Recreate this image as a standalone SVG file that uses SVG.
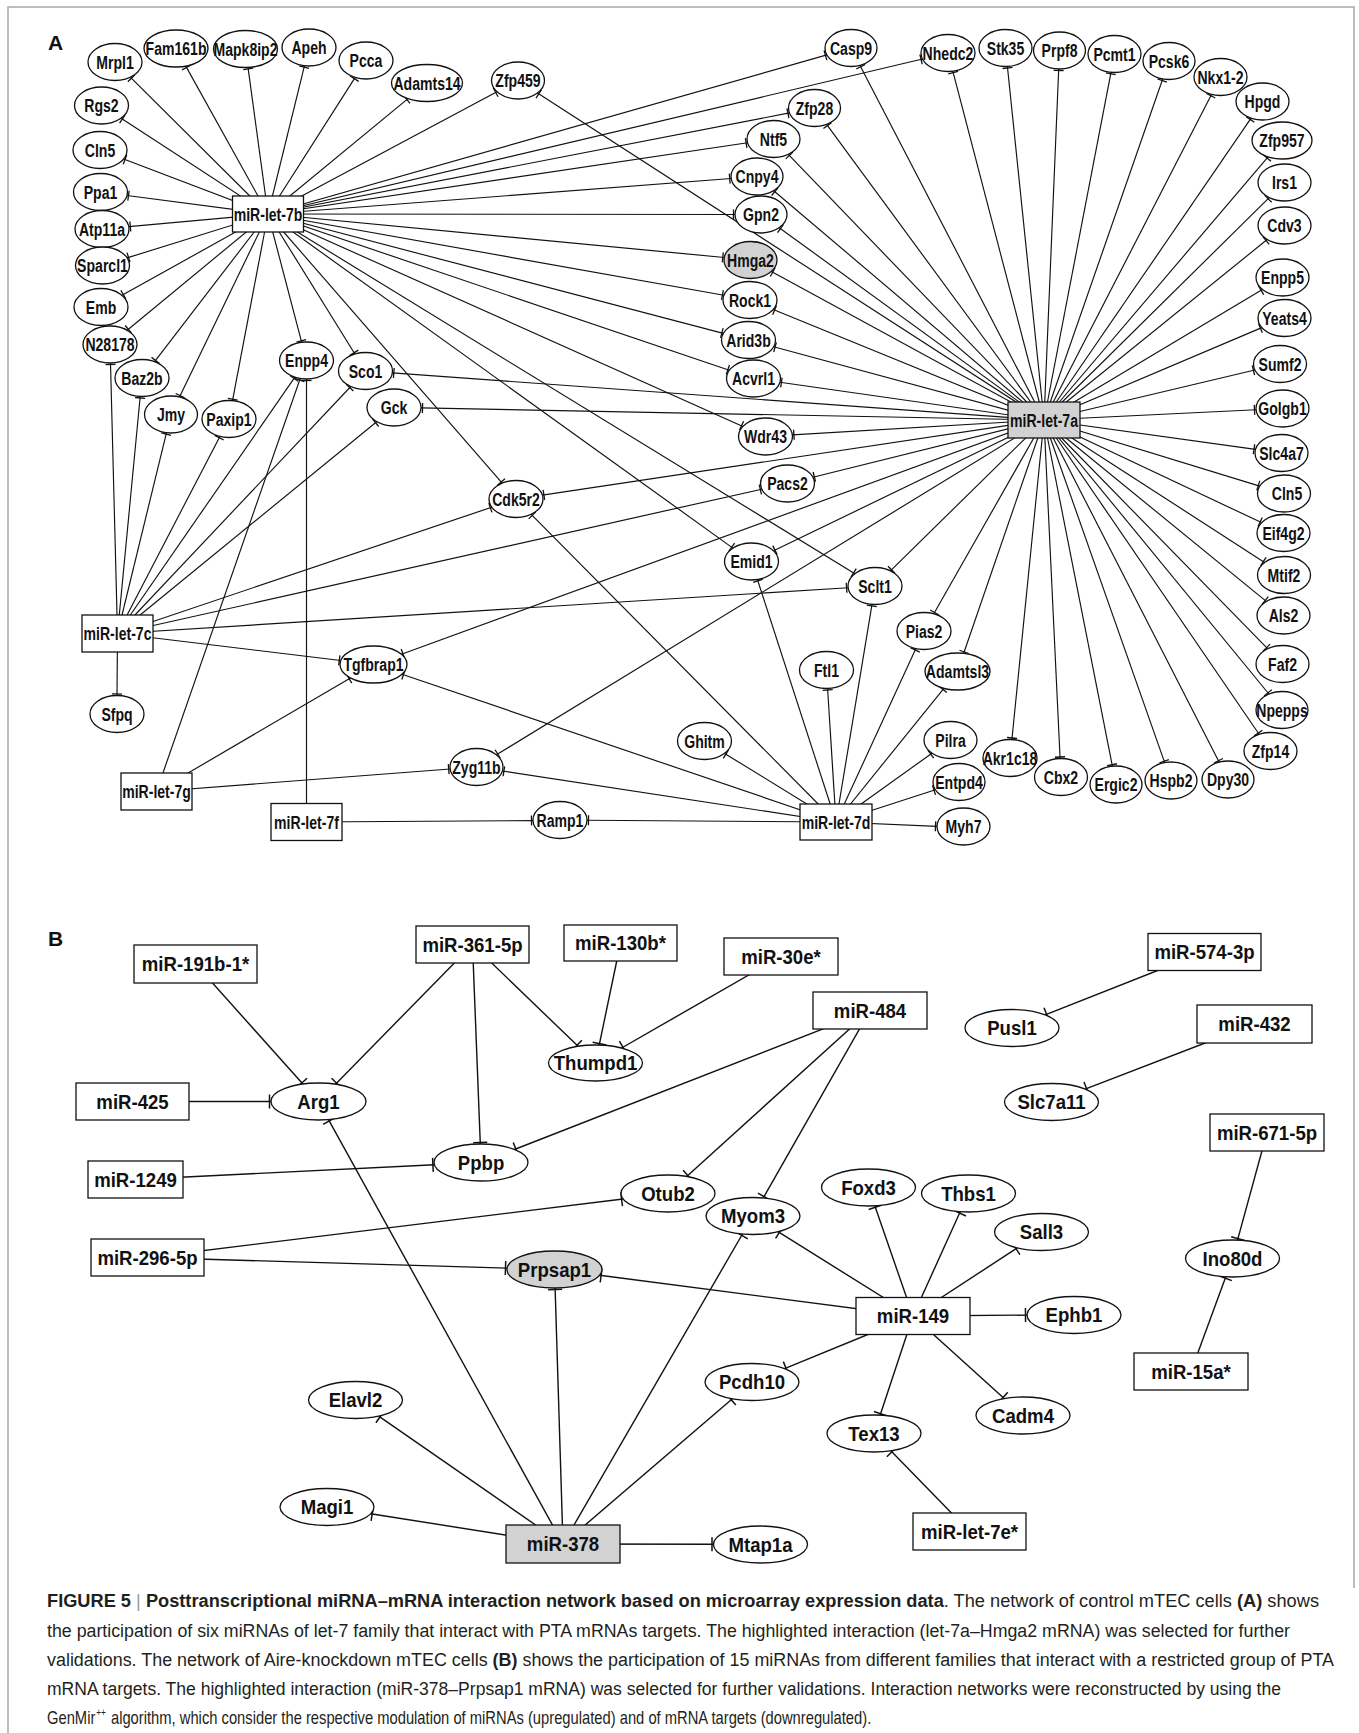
<svg xmlns="http://www.w3.org/2000/svg" width="1359" height="1733" viewBox="0 0 1359 1733">
<defs>
<marker id="ta" markerUnits="userSpaceOnUse" viewBox="-4 -6 6 12" refX="0" refY="0" markerWidth="6" markerHeight="12" orient="auto"><path d="M-1.5,-5V5" fill="none" stroke="#111" stroke-width="1.3"/></marker>
<marker id="tb" markerUnits="userSpaceOnUse" viewBox="-4 -8 6 16" refX="0" refY="0" markerWidth="6" markerHeight="16" orient="auto"><path d="M-1.5,-7V7" fill="none" stroke="#111" stroke-width="1.5"/></marker>
</defs>
<style>
.nd ellipse,.nd rect{fill:#fff;stroke:#111;stroke-width:1.3}
.hl ellipse,.hl rect{fill:#d2d2d2}
.la{font-family:'Liberation Sans',Arial,Helvetica,sans-serif;font-weight:bold;font-size:18.5px;text-anchor:middle;fill:#111}
.lb{font-family:'Liberation Sans',Arial,Helvetica,sans-serif;font-weight:bold;font-size:20px;text-anchor:middle;fill:#111}
.ea line{stroke:#111;stroke-width:1.15;fill:none;marker-end:url(#ta)}
.eb line{stroke:#111;stroke-width:1.4;fill:none;marker-end:url(#tb)}
.cap{font-family:'Liberation Sans',Arial,Helvetica,sans-serif;font-size:18px;fill:#231f20}
.pl{font-family:'Liberation Sans',Arial,Helvetica,sans-serif;font-weight:bold;font-size:21px;fill:#111}
</style>
<rect width="1359" height="1733" fill="#fff"/>
<path id="frame" d="M8 1733V7H1354V1588" fill="none" stroke="#a8a8a8" stroke-width="1.5"/>
<text class="pl" x="48" y="50">A</text>
<text class="pl" x="48" y="946">B</text>

<g id="edges-A" class="ea">
<line x1="268" y1="214" x2="130.3" y2="77.2"/>
<line x1="268" y1="214" x2="185.8" y2="66.1"/>
<line x1="268" y1="214" x2="248" y2="67.4"/>
<line x1="268" y1="214" x2="304.5" y2="65.7"/>
<line x1="268" y1="214" x2="355.2" y2="77.4"/>
<line x1="268" y1="214" x2="408" y2="98.6"/>
<line x1="268" y1="214" x2="497" y2="91.7"/>
<line x1="268" y1="214" x2="121.1" y2="118.2"/>
<line x1="268" y1="214" x2="123.6" y2="159"/>
<line x1="268" y1="214" x2="127" y2="195.5"/>
<line x1="268" y1="214" x2="128.8" y2="226.6"/>
<line x1="268" y1="214" x2="127.1" y2="257.9"/>
<line x1="268" y1="214" x2="122" y2="295.3"/>
<line x1="268" y1="214" x2="127.2" y2="330.3"/>
<line x1="268" y1="214" x2="154.6" y2="361.6"/>
<line x1="268" y1="214" x2="179.5" y2="397"/>
<line x1="268" y1="214" x2="232.5" y2="400.7"/>
<line x1="268" y1="214" x2="301.7" y2="342.3"/>
<line x1="268" y1="214" x2="354.9" y2="354"/>
<line x1="268" y1="214" x2="502.2" y2="483.1"/>
<line x1="268" y1="214" x2="732.9" y2="548.1"/>
<line x1="268" y1="214" x2="854.9" y2="573.7"/>
<line x1="268" y1="214" x2="742.9" y2="426.4"/>
<line x1="268" y1="214" x2="729.3" y2="370.3"/>
<line x1="268" y1="214" x2="723.3" y2="333.4"/>
<line x1="268" y1="214" x2="723.9" y2="295.3"/>
<line x1="268" y1="214" x2="724.3" y2="257.5"/>
<line x1="268" y1="214" x2="735" y2="214.5"/>
<line x1="268" y1="214" x2="731.2" y2="178.5"/>
<line x1="268" y1="214" x2="747.6" y2="142.8"/>
<line x1="268" y1="214" x2="789.4" y2="112.9"/>
<line x1="268" y1="214" x2="826.9" y2="54.9"/>
<line x1="268" y1="214" x2="922.5" y2="59"/>
<line x1="1044" y1="420" x2="537.5" y2="93.1"/>
<line x1="1044" y1="420" x2="860" y2="65.4"/>
<line x1="1044" y1="420" x2="952.8" y2="71.2"/>
<line x1="1044" y1="420" x2="1007.4" y2="66.5"/>
<line x1="1044" y1="420" x2="1058.7" y2="69"/>
<line x1="1044" y1="420" x2="1111" y2="72.3"/>
<line x1="1044" y1="420" x2="1162.7" y2="79"/>
<line x1="1044" y1="420" x2="1211.5" y2="94.4"/>
<line x1="1044" y1="420" x2="1251.1" y2="118.2"/>
<line x1="1044" y1="420" x2="1268.1" y2="156.9"/>
<line x1="1044" y1="420" x2="1269.2" y2="197.6"/>
<line x1="1044" y1="420" x2="1267.2" y2="239.5"/>
<line x1="1044" y1="420" x2="1262.4" y2="289.5"/>
<line x1="1044" y1="420" x2="1261.8" y2="327.6"/>
<line x1="1044" y1="420" x2="1254.9" y2="370"/>
<line x1="1044" y1="420" x2="1256" y2="409.8"/>
<line x1="1044" y1="420" x2="1255.5" y2="449.4"/>
<line x1="1044" y1="420" x2="1259.7" y2="486.1"/>
<line x1="1044" y1="420" x2="1261.5" y2="522.6"/>
<line x1="1044" y1="420" x2="1264.6" y2="562.4"/>
<line x1="1044" y1="420" x2="1266.3" y2="601.4"/>
<line x1="1044" y1="420" x2="1267.6" y2="648.7"/>
<line x1="1044" y1="420" x2="1268.9" y2="694"/>
<line x1="1044" y1="420" x2="1259.1" y2="734.3"/>
<line x1="1044" y1="420" x2="1219.1" y2="762.1"/>
<line x1="1044" y1="420" x2="1164.7" y2="762.6"/>
<line x1="1044" y1="420" x2="1112.4" y2="766.2"/>
<line x1="1044" y1="420" x2="1060.1" y2="758.5"/>
<line x1="1044" y1="420" x2="1011.9" y2="739.5"/>
<line x1="1044" y1="420" x2="963.7" y2="653.3"/>
<line x1="1044" y1="420" x2="933.8" y2="613.8"/>
<line x1="1044" y1="420" x2="890.4" y2="570.8"/>
<line x1="1044" y1="420" x2="773.6" y2="550.8"/>
<line x1="1044" y1="420" x2="496.4" y2="754.8"/>
<line x1="1044" y1="420" x2="401.5" y2="654.3"/>
<line x1="1044" y1="420" x2="812.9" y2="477.2"/>
<line x1="1044" y1="420" x2="542.4" y2="495.1"/>
<line x1="1044" y1="420" x2="792.4" y2="434.9"/>
<line x1="1044" y1="420" x2="421" y2="407.9"/>
<line x1="1044" y1="420" x2="392.3" y2="372.9"/>
<line x1="1044" y1="420" x2="779.9" y2="382.3"/>
<line x1="1044" y1="420" x2="773.6" y2="346.8"/>
<line x1="1044" y1="420" x2="773.2" y2="309.5"/>
<line x1="1044" y1="420" x2="771.4" y2="271.4"/>
<line x1="1044" y1="420" x2="779.2" y2="227.7"/>
<line x1="1044" y1="420" x2="773.7" y2="190.7"/>
<line x1="1044" y1="420" x2="788.3" y2="154.3"/>
<line x1="1044" y1="420" x2="826.6" y2="124.4"/>
<line x1="117.5" y1="633.5" x2="110.5" y2="363"/>
<line x1="117.5" y1="633.5" x2="140.2" y2="396.5"/>
<line x1="117.5" y1="633.5" x2="166.5" y2="432.7"/>
<line x1="117.5" y1="633.5" x2="219.9" y2="436.4"/>
<line x1="117.5" y1="633.5" x2="294.9" y2="377.2"/>
<line x1="117.5" y1="633.5" x2="350.8" y2="386.5"/>
<line x1="117.5" y1="633.5" x2="376.7" y2="421.7"/>
<line x1="117.5" y1="633.5" x2="491.8" y2="507.2"/>
<line x1="117.5" y1="633.5" x2="761.8" y2="489.2"/>
<line x1="117.5" y1="633.5" x2="848.1" y2="587.7"/>
<line x1="117.5" y1="633.5" x2="340.8" y2="660.5"/>
<line x1="117.5" y1="633.5" x2="117" y2="695.5"/>
<line x1="156.5" y1="791.5" x2="300.2" y2="378.5"/>
<line x1="156.5" y1="791.5" x2="350.5" y2="678"/>
<line x1="156.5" y1="791.5" x2="450.2" y2="769"/>
<line x1="306.5" y1="822" x2="306.5" y2="379"/>
<line x1="306.5" y1="822" x2="533" y2="820.6"/>
<line x1="836" y1="822" x2="587" y2="820.2"/>
<line x1="836" y1="822" x2="502.4" y2="771"/>
<line x1="836" y1="822" x2="402" y2="674.2"/>
<line x1="836" y1="822" x2="531.2" y2="514.3"/>
<line x1="836" y1="822" x2="724.6" y2="753.4"/>
<line x1="836" y1="822" x2="757.4" y2="579.5"/>
<line x1="836" y1="822" x2="827.6" y2="688.5"/>
<line x1="836" y1="822" x2="872" y2="604.4"/>
<line x1="836" y1="822" x2="915.9" y2="648.6"/>
<line x1="836" y1="822" x2="943.9" y2="688.3"/>
<line x1="836" y1="822" x2="932" y2="753.2"/>
<line x1="836" y1="822" x2="935.4" y2="789.7"/>
<line x1="836" y1="822" x2="937" y2="826.4"/>
</g>

<g id="edges-B" class="eb">
<line x1="195.5" y1="964" x2="302.9" y2="1084"/>
<line x1="472.5" y1="944.5" x2="335.5" y2="1084.2"/>
<line x1="472.5" y1="944.5" x2="480.3" y2="1144"/>
<line x1="472.5" y1="944.5" x2="578.1" y2="1046.3"/>
<line x1="620.5" y1="943" x2="599.2" y2="1045.1"/>
<line x1="781" y1="956.5" x2="621.6" y2="1048"/>
<line x1="132.5" y1="1101.5" x2="271" y2="1101.5"/>
<line x1="870" y1="1010.5" x2="514.4" y2="1149.5"/>
<line x1="870" y1="1010.5" x2="686.7" y2="1176.5"/>
<line x1="870" y1="1010.5" x2="763.3" y2="1197.9"/>
<line x1="135.5" y1="1179.5" x2="434.4" y2="1164.8"/>
<line x1="147.5" y1="1257.5" x2="623.1" y2="1199"/>
<line x1="147.5" y1="1257.5" x2="507" y2="1268.1"/>
<line x1="913" y1="1316" x2="599.6" y2="1275.3"/>
<line x1="913" y1="1316" x2="778" y2="1231.7"/>
<line x1="913" y1="1316" x2="874.8" y2="1205.8"/>
<line x1="913" y1="1316" x2="960.2" y2="1211.7"/>
<line x1="913" y1="1316" x2="1017.3" y2="1247.9"/>
<line x1="913" y1="1316" x2="1027" y2="1315.1"/>
<line x1="913" y1="1316" x2="1004.2" y2="1398.5"/>
<line x1="913" y1="1316" x2="880.1" y2="1415.2"/>
<line x1="913" y1="1316" x2="784.6" y2="1368.7"/>
<line x1="969.5" y1="1531.5" x2="890.8" y2="1450.8"/>
<line x1="563" y1="1544" x2="328.5" y2="1119.6"/>
<line x1="563" y1="1544" x2="555.1" y2="1288"/>
<line x1="563" y1="1544" x2="742.5" y2="1234"/>
<line x1="563" y1="1544" x2="732.4" y2="1398.8"/>
<line x1="563" y1="1544" x2="378.7" y2="1416.1"/>
<line x1="563" y1="1544" x2="370.7" y2="1513.8"/>
<line x1="563" y1="1544" x2="713.5" y2="1544.3"/>
<line x1="1204.5" y1="952" x2="1045.2" y2="1014.9"/>
<line x1="1254.5" y1="1024" x2="1085.1" y2="1089.1"/>
<line x1="1267" y1="1132.5" x2="1237.5" y2="1240.1"/>
<line x1="1191" y1="1371.5" x2="1225.8" y2="1276.8"/>
</g>

<g id="nodes-A">
<g id="a-let7b" class="nd"><rect x="232.5" y="196" width="71" height="36"/><text class="la" transform="translate(268 220.5) scale(.76 1)">miR-let-7b</text></g>
<g id="a-let7a" class="nd hl"><rect x="1008" y="402" width="72" height="36"/><text class="la" transform="translate(1044 426.5) scale(.76 1)">miR-let-7a</text></g>
<g id="a-let7c" class="nd"><rect x="82" y="615" width="71" height="37"/><text class="la" transform="translate(117.5 640) scale(.76 1)">miR-let-7c</text></g>
<g id="a-let7g" class="nd"><rect x="121" y="773" width="71" height="37"/><text class="la" transform="translate(156.5 798) scale(.76 1)">miR-let-7g</text></g>
<g id="a-let7f" class="nd"><rect x="271" y="803.5" width="71" height="37"/><text class="la" transform="translate(306.5 828.5) scale(.76 1)">miR-let-7f</text></g>
<g id="a-let7d" class="nd"><rect x="800" y="804" width="72" height="36"/><text class="la" transform="translate(836 828.5) scale(.76 1)">miR-let-7d</text></g>
<g id="a-Mrpl1" class="nd"><ellipse cx="115" cy="62" rx="27" ry="18.5"/><text class="la" transform="translate(115 68.5) scale(.76 1)">Mrpl1</text></g>
<g id="a-Fam161b" class="nd"><ellipse cx="176" cy="48.5" rx="32" ry="18.5"/><text class="la" transform="translate(176 55) scale(.76 1)">Fam161b</text></g>
<g id="a-Mapk8ip2" class="nd"><ellipse cx="245.5" cy="49" rx="32" ry="18.5"/><text class="la" transform="translate(245.5 55.5) scale(.76 1)">Mapk8ip2</text></g>
<g id="a-Apeh" class="nd"><ellipse cx="309" cy="47.5" rx="27" ry="18.5"/><text class="la" transform="translate(309 54) scale(.76 1)">Apeh</text></g>
<g id="a-Pcca" class="nd"><ellipse cx="366" cy="60.5" rx="27" ry="18.5"/><text class="la" transform="translate(366 67) scale(.76 1)">Pcca</text></g>
<g id="a-Adamts14" class="nd"><ellipse cx="427" cy="83" rx="35.5" ry="18.5"/><text class="la" transform="translate(427 89.5) scale(.76 1)">Adamts14</text></g>
<g id="a-Zfp459" class="nd"><ellipse cx="518" cy="80.5" rx="26.5" ry="18.5"/><text class="la" transform="translate(518 87) scale(.76 1)">Zfp459</text></g>
<g id="a-Rgs2" class="nd"><ellipse cx="101.5" cy="105.5" rx="27" ry="18.5"/><text class="la" transform="translate(101.5 112) scale(.76 1)">Rgs2</text></g>
<g id="a-Cln5-l" class="nd"><ellipse cx="100" cy="150" rx="27" ry="18.5"/><text class="la" transform="translate(100 156.5) scale(.76 1)">Cln5</text></g>
<g id="a-Ppa1" class="nd"><ellipse cx="100.5" cy="192" rx="27" ry="18.5"/><text class="la" transform="translate(100.5 198.5) scale(.76 1)">Ppa1</text></g>
<g id="a-Atp11a" class="nd"><ellipse cx="102" cy="229" rx="27" ry="18.5"/><text class="la" transform="translate(102 235.5) scale(.76 1)">Atp11a</text></g>
<g id="a-Sparcl1" class="nd"><ellipse cx="102.5" cy="265.5" rx="27" ry="18.5"/><text class="la" transform="translate(102.5 272) scale(.76 1)">Sparcl1</text></g>
<g id="a-Emb" class="nd"><ellipse cx="101" cy="307" rx="27" ry="18.5"/><text class="la" transform="translate(101 313.5) scale(.76 1)">Emb</text></g>
<g id="a-N28178" class="nd"><ellipse cx="110" cy="344.5" rx="27" ry="18.5"/><text class="la" transform="translate(110 351) scale(.76 1)">N28178</text></g>
<g id="a-Baz2b" class="nd"><ellipse cx="142" cy="378" rx="27" ry="18.5"/><text class="la" transform="translate(142 384.5) scale(.76 1)">Baz2b</text></g>
<g id="a-Jmy" class="nd"><ellipse cx="171" cy="414.5" rx="26.5" ry="18.5"/><text class="la" transform="translate(171 421) scale(.76 1)">Jmy</text></g>
<g id="a-Paxip1" class="nd"><ellipse cx="229" cy="419" rx="27" ry="18.5"/><text class="la" transform="translate(229 425.5) scale(.76 1)">Paxip1</text></g>
<g id="a-Enpp4" class="nd"><ellipse cx="306.5" cy="360.5" rx="27" ry="18.5"/><text class="la" transform="translate(306.5 367) scale(.76 1)">Enpp4</text></g>
<g id="a-Sco1" class="nd"><ellipse cx="365.5" cy="371" rx="27" ry="18.5"/><text class="la" transform="translate(365.5 377.5) scale(.76 1)">Sco1</text></g>
<g id="a-Gck" class="nd"><ellipse cx="394" cy="407.5" rx="27" ry="18.5"/><text class="la" transform="translate(394 414) scale(.76 1)">Gck</text></g>
<g id="a-Sfpq" class="nd"><ellipse cx="117" cy="714" rx="27" ry="18.5"/><text class="la" transform="translate(117 720.5) scale(.76 1)">Sfpq</text></g>
<g id="a-Tgfbrap1" class="nd"><ellipse cx="373.5" cy="664.5" rx="33.5" ry="18.5"/><text class="la" transform="translate(373.5 671) scale(.76 1)">Tgfbrap1</text></g>
<g id="a-Zyg11b" class="nd"><ellipse cx="476.5" cy="767" rx="26.5" ry="18.5"/><text class="la" transform="translate(476.5 773.5) scale(.76 1)">Zyg11b</text></g>
<g id="a-Ramp1" class="nd"><ellipse cx="560" cy="820" rx="27" ry="18.5"/><text class="la" transform="translate(560 826.5) scale(.76 1)">Ramp1</text></g>
<g id="a-Ghitm" class="nd"><ellipse cx="704.5" cy="741" rx="27" ry="18.5"/><text class="la" transform="translate(704.5 747.5) scale(.76 1)">Ghitm</text></g>
<g id="a-Ftl1" class="nd"><ellipse cx="826.5" cy="670" rx="27" ry="18.5"/><text class="la" transform="translate(826.5 676.5) scale(.76 1)">Ftl1</text></g>
<g id="a-Emid1" class="nd"><ellipse cx="751.5" cy="561.5" rx="27" ry="18.5"/><text class="la" transform="translate(751.5 568) scale(.76 1)">Emid1</text></g>
<g id="a-Sclt1" class="nd"><ellipse cx="875" cy="586" rx="27" ry="18.5"/><text class="la" transform="translate(875 592.5) scale(.76 1)">Sclt1</text></g>
<g id="a-Cdk5r2" class="nd"><ellipse cx="516" cy="499" rx="27" ry="18.5"/><text class="la" transform="translate(516 505.5) scale(.76 1)">Cdk5r2</text></g>
<g id="a-Pacs2" class="nd"><ellipse cx="787.5" cy="483.5" rx="27" ry="18.5"/><text class="la" transform="translate(787.5 490) scale(.76 1)">Pacs2</text></g>
<g id="a-Wdr43" class="nd"><ellipse cx="765.5" cy="436.5" rx="27" ry="18.5"/><text class="la" transform="translate(765.5 443) scale(.76 1)">Wdr43</text></g>
<g id="a-Acvrl1" class="nd"><ellipse cx="753.5" cy="378.5" rx="27" ry="18.5"/><text class="la" transform="translate(753.5 385) scale(.76 1)">Acvrl1</text></g>
<g id="a-Arid3b" class="nd"><ellipse cx="748.5" cy="340" rx="27" ry="18.5"/><text class="la" transform="translate(748.5 346.5) scale(.76 1)">Arid3b</text></g>
<g id="a-Rock1" class="nd"><ellipse cx="750" cy="300" rx="27" ry="18.5"/><text class="la" transform="translate(750 306.5) scale(.76 1)">Rock1</text></g>
<g id="a-Hmga2" class="nd hl"><ellipse cx="750.5" cy="260" rx="26.5" ry="18.5"/><text class="la" transform="translate(750.5 266.5) scale(.76 1)">Hmga2</text></g>
<g id="a-Gpn2" class="nd"><ellipse cx="761" cy="214.5" rx="26" ry="18.5"/><text class="la" transform="translate(761 221) scale(.76 1)">Gpn2</text></g>
<g id="a-Cnpy4" class="nd"><ellipse cx="757" cy="176.5" rx="26" ry="18.5"/><text class="la" transform="translate(757 183) scale(.76 1)">Cnpy4</text></g>
<g id="a-Ntf5" class="nd"><ellipse cx="773.5" cy="139" rx="26.5" ry="18.5"/><text class="la" transform="translate(773.5 145.5) scale(.76 1)">Ntf5</text></g>
<g id="a-Zfp28" class="nd"><ellipse cx="814.5" cy="108" rx="26" ry="18.5"/><text class="la" transform="translate(814.5 114.5) scale(.76 1)">Zfp28</text></g>
<g id="a-Casp9" class="nd"><ellipse cx="851" cy="48" rx="26" ry="18.5"/><text class="la" transform="translate(851 54.5) scale(.76 1)">Casp9</text></g>
<g id="a-Nhedc2" class="nd"><ellipse cx="948" cy="53" rx="27" ry="18.5"/><text class="la" transform="translate(948 59.5) scale(.76 1)">Nhedc2</text></g>
<g id="a-Stk35" class="nd"><ellipse cx="1005.5" cy="48" rx="26.5" ry="18.5"/><text class="la" transform="translate(1005.5 54.5) scale(.76 1)">Stk35</text></g>
<g id="a-Prpf8" class="nd"><ellipse cx="1059.5" cy="50.5" rx="26" ry="18.5"/><text class="la" transform="translate(1059.5 57) scale(.76 1)">Prpf8</text></g>
<g id="a-Pcmt1" class="nd"><ellipse cx="1114.5" cy="54" rx="26.5" ry="18.5"/><text class="la" transform="translate(1114.5 60.5) scale(.76 1)">Pcmt1</text></g>
<g id="a-Pcsk6" class="nd"><ellipse cx="1169" cy="61" rx="26" ry="18.5"/><text class="la" transform="translate(1169 67.5) scale(.76 1)">Pcsk6</text></g>
<g id="a-Nkx1-2" class="nd"><ellipse cx="1220.5" cy="77" rx="26.5" ry="18.5"/><text class="la" transform="translate(1220.5 83.5) scale(.76 1)">Nkx1-2</text></g>
<g id="a-Hpgd" class="nd"><ellipse cx="1262.5" cy="101.5" rx="26.5" ry="18.5"/><text class="la" transform="translate(1262.5 108) scale(.76 1)">Hpgd</text></g>
<g id="a-Zfp957" class="nd"><ellipse cx="1282" cy="140.5" rx="30" ry="18.5"/><text class="la" transform="translate(1282 147) scale(.76 1)">Zfp957</text></g>
<g id="a-Irs1" class="nd"><ellipse cx="1284.5" cy="182.5" rx="26.5" ry="18.5"/><text class="la" transform="translate(1284.5 189) scale(.76 1)">Irs1</text></g>
<g id="a-Cdv3" class="nd"><ellipse cx="1284.5" cy="225.5" rx="26.5" ry="18.5"/><text class="la" transform="translate(1284.5 232) scale(.76 1)">Cdv3</text></g>
<g id="a-Enpp5" class="nd"><ellipse cx="1282.5" cy="277.5" rx="26.5" ry="18.5"/><text class="la" transform="translate(1282.5 284) scale(.76 1)">Enpp5</text></g>
<g id="a-Yeats4" class="nd"><ellipse cx="1284.5" cy="318" rx="26.5" ry="18.5"/><text class="la" transform="translate(1284.5 324.5) scale(.76 1)">Yeats4</text></g>
<g id="a-Sumf2" class="nd"><ellipse cx="1280" cy="364" rx="26.5" ry="18.5"/><text class="la" transform="translate(1280 370.5) scale(.76 1)">Sumf2</text></g>
<g id="a-Golgb1" class="nd"><ellipse cx="1282.5" cy="408.5" rx="26.5" ry="18.5"/><text class="la" transform="translate(1282.5 415) scale(.76 1)">Golgb1</text></g>
<g id="a-Slc4a7" class="nd"><ellipse cx="1281.5" cy="453" rx="26.5" ry="18.5"/><text class="la" transform="translate(1281.5 459.5) scale(.76 1)">Slc4a7</text></g>
<g id="a-Cln5-r" class="nd"><ellipse cx="1284" cy="493.5" rx="26.5" ry="18.5"/><text class="la" transform="translate(1287 500) scale(.76 1)">Cln5</text></g>
<g id="a-Eif4g2" class="nd"><ellipse cx="1283.5" cy="533" rx="26.5" ry="18.5"/><text class="la" transform="translate(1283.5 539.5) scale(.76 1)">Eif4g2</text></g>
<g id="a-Mtif2" class="nd"><ellipse cx="1284" cy="575" rx="26.5" ry="18.5"/><text class="la" transform="translate(1284 581.5) scale(.76 1)">Mtif2</text></g>
<g id="a-Als2" class="nd"><ellipse cx="1283.5" cy="615.5" rx="26.5" ry="18.5"/><text class="la" transform="translate(1283.5 622) scale(.76 1)">Als2</text></g>
<g id="a-Faf2" class="nd"><ellipse cx="1282.5" cy="664" rx="26.5" ry="18.5"/><text class="la" transform="translate(1282.5 670.5) scale(.76 1)">Faf2</text></g>
<g id="a-Npepps" class="nd"><ellipse cx="1282" cy="710" rx="26" ry="18.5"/><text class="la" transform="translate(1282 716.5) scale(.76 1)">Npepps</text></g>
<g id="a-Zfp14" class="nd"><ellipse cx="1270.5" cy="751" rx="26.5" ry="18.5"/><text class="la" transform="translate(1270.5 757.5) scale(.76 1)">Zfp14</text></g>
<g id="a-Dpy30" class="nd"><ellipse cx="1228" cy="779.5" rx="26" ry="18.5"/><text class="la" transform="translate(1228 786) scale(.76 1)">Dpy30</text></g>
<g id="a-Hspb2" class="nd"><ellipse cx="1171" cy="780.5" rx="26" ry="18.5"/><text class="la" transform="translate(1171 787) scale(.76 1)">Hspb2</text></g>
<g id="a-Ergic2" class="nd"><ellipse cx="1116" cy="784.5" rx="26" ry="18.5"/><text class="la" transform="translate(1116 791) scale(.76 1)">Ergic2</text></g>
<g id="a-Cbx2" class="nd"><ellipse cx="1061" cy="777" rx="26.5" ry="18.5"/><text class="la" transform="translate(1061 783.5) scale(.76 1)">Cbx2</text></g>
<g id="a-Akr1c18" class="nd"><ellipse cx="1010" cy="758" rx="27" ry="18.5"/><text class="la" transform="translate(1010 764.5) scale(.76 1)">Akr1c18</text></g>
<g id="a-Adamtsl3" class="nd"><ellipse cx="957.5" cy="671.5" rx="32.5" ry="18.5"/><text class="la" transform="translate(957.5 678) scale(.76 1)">Adamtsl3</text></g>
<g id="a-Pias2" class="nd"><ellipse cx="924" cy="631" rx="27" ry="18.5"/><text class="la" transform="translate(924 637.5) scale(.76 1)">Pias2</text></g>
<g id="a-Pilra" class="nd"><ellipse cx="950.5" cy="740" rx="26.5" ry="18.5"/><text class="la" transform="translate(950.5 746.5) scale(.76 1)">Pilra</text></g>
<g id="a-Entpd4" class="nd"><ellipse cx="959" cy="782" rx="26" ry="18.5"/><text class="la" transform="translate(959 788.5) scale(.76 1)">Entpd4</text></g>
<g id="a-Myh7" class="nd"><ellipse cx="963.5" cy="826.5" rx="26.5" ry="18.5"/><text class="la" transform="translate(963.5 833) scale(.76 1)">Myh7</text></g>
</g>

<g id="nodes-B">
<g id="b-miR-191b-1" class="nd"><rect x="134" y="945" width="123" height="38"/><text class="lb" transform="translate(195.5 971) scale(.93 1)">miR-191b-1*</text></g>
<g id="b-miR-361-5p" class="nd"><rect x="416" y="926" width="113" height="37"/><text class="lb" transform="translate(472.5 951.5) scale(.93 1)">miR-361-5p</text></g>
<g id="b-miR-130b" class="nd"><rect x="564" y="925" width="113" height="36"/><text class="lb" transform="translate(620.5 950) scale(.93 1)">miR-130b*</text></g>
<g id="b-miR-30e" class="nd"><rect x="724" y="938" width="114" height="37"/><text class="lb" transform="translate(781 963.5) scale(.93 1)">miR-30e*</text></g>
<g id="b-miR-484" class="nd"><rect x="813" y="992" width="114" height="37"/><text class="lb" transform="translate(870 1017.5) scale(.93 1)">miR-484</text></g>
<g id="b-miR-574-3p" class="nd"><rect x="1148" y="933.5" width="113" height="37"/><text class="lb" transform="translate(1204.5 959) scale(.93 1)">miR-574-3p</text></g>
<g id="b-miR-432" class="nd"><rect x="1197" y="1005" width="115" height="38"/><text class="lb" transform="translate(1254.5 1031) scale(.93 1)">miR-432</text></g>
<g id="b-miR-671-5p" class="nd"><rect x="1210" y="1114" width="114" height="37"/><text class="lb" transform="translate(1267 1139.5) scale(.93 1)">miR-671-5p</text></g>
<g id="b-miR-425" class="nd"><rect x="76" y="1083" width="113" height="37"/><text class="lb" transform="translate(132.5 1108.5) scale(.93 1)">miR-425</text></g>
<g id="b-miR-1249" class="nd"><rect x="88" y="1161" width="95" height="37"/><text class="lb" transform="translate(135.5 1186.5) scale(.93 1)">miR-1249</text></g>
<g id="b-miR-296-5p" class="nd"><rect x="91" y="1239" width="113" height="37"/><text class="lb" transform="translate(147.5 1264.5) scale(.93 1)">miR-296-5p</text></g>
<g id="b-miR-149" class="nd"><rect x="856" y="1297.5" width="114" height="37"/><text class="lb" transform="translate(913 1323) scale(.93 1)">miR-149</text></g>
<g id="b-miR-15a" class="nd"><rect x="1134" y="1353" width="114" height="37"/><text class="lb" transform="translate(1191 1378.5) scale(.93 1)">miR-15a*</text></g>
<g id="b-miR-let-7e" class="nd"><rect x="913" y="1513" width="113" height="37"/><text class="lb" transform="translate(969.5 1538.5) scale(.93 1)">miR-let-7e*</text></g>
<g id="b-miR-378" class="nd hl"><rect x="506" y="1525" width="114" height="38"/><text class="lb" transform="translate(563 1551) scale(.93 1)">miR-378</text></g>
<g id="b-Arg1" class="nd"><ellipse cx="318.5" cy="1101.5" rx="47.5" ry="18.5"/><text class="lb" transform="translate(318.5 1108.5) scale(.93 1)">Arg1</text></g>
<g id="b-Thumpd1" class="nd"><ellipse cx="595.5" cy="1063" rx="47" ry="18"/><text class="lb" transform="translate(595.5 1070) scale(.93 1)">Thumpd1</text></g>
<g id="b-Ppbp" class="nd"><ellipse cx="481" cy="1162.5" rx="47" ry="18.5"/><text class="lb" transform="translate(481 1169.5) scale(.93 1)">Ppbp</text></g>
<g id="b-Otub2" class="nd"><ellipse cx="668" cy="1193.5" rx="47" ry="18.5"/><text class="lb" transform="translate(668 1200.5) scale(.93 1)">Otub2</text></g>
<g id="b-Prpsap1" class="nd hl"><ellipse cx="554.5" cy="1269.5" rx="47.5" ry="18.5"/><text class="lb" transform="translate(554.5 1276.5) scale(.93 1)">Prpsap1</text></g>
<g id="b-Elavl2" class="nd"><ellipse cx="355.5" cy="1400" rx="47" ry="18.5"/><text class="lb" transform="translate(355.5 1407) scale(.93 1)">Elavl2</text></g>
<g id="b-Magi1" class="nd"><ellipse cx="327" cy="1507" rx="47" ry="18.5"/><text class="lb" transform="translate(327 1514) scale(.93 1)">Magi1</text></g>
<g id="b-Myom3" class="nd"><ellipse cx="753" cy="1216" rx="47" ry="18.5"/><text class="lb" transform="translate(753 1223) scale(.93 1)">Myom3</text></g>
<g id="b-Foxd3" class="nd"><ellipse cx="868.5" cy="1187.5" rx="47" ry="18.5"/><text class="lb" transform="translate(868.5 1194.5) scale(.93 1)">Foxd3</text></g>
<g id="b-Thbs1" class="nd"><ellipse cx="968.5" cy="1193.5" rx="47" ry="18.5"/><text class="lb" transform="translate(968.5 1200.5) scale(.93 1)">Thbs1</text></g>
<g id="b-Sall3" class="nd"><ellipse cx="1041.5" cy="1232" rx="47" ry="18.5"/><text class="lb" transform="translate(1041.5 1239) scale(.93 1)">Sall3</text></g>
<g id="b-Ephb1" class="nd"><ellipse cx="1074" cy="1315" rx="47" ry="18.5"/><text class="lb" transform="translate(1074 1322) scale(.93 1)">Ephb1</text></g>
<g id="b-Pcdh10" class="nd"><ellipse cx="752" cy="1382" rx="47" ry="18.5"/><text class="lb" transform="translate(752 1389) scale(.93 1)">Pcdh10</text></g>
<g id="b-Cadm4" class="nd"><ellipse cx="1023" cy="1415.5" rx="47" ry="18.5"/><text class="lb" transform="translate(1023 1422.5) scale(.93 1)">Cadm4</text></g>
<g id="b-Tex13" class="nd"><ellipse cx="874" cy="1433.5" rx="47" ry="18.5"/><text class="lb" transform="translate(874 1440.5) scale(.93 1)">Tex13</text></g>
<g id="b-Mtap1a" class="nd"><ellipse cx="760.5" cy="1544.5" rx="47" ry="18.5"/><text class="lb" transform="translate(760.5 1551.5) scale(.93 1)">Mtap1a</text></g>
<g id="b-Pusl1" class="nd"><ellipse cx="1012" cy="1028" rx="47" ry="18.5"/><text class="lb" transform="translate(1012 1035) scale(.93 1)">Pusl1</text></g>
<g id="b-Slc7a11" class="nd"><ellipse cx="1051.5" cy="1102" rx="47" ry="18.5"/><text class="lb" transform="translate(1051.5 1109) scale(.93 1)">Slc7a11</text></g>
<g id="b-Ino80d" class="nd"><ellipse cx="1232.5" cy="1258.5" rx="47" ry="18.5"/><text class="lb" transform="translate(1232.5 1265.5) scale(.93 1)">Ino80d</text></g>
</g>

<g id="caption" class="cap">
<text x="47" y="1607" textLength="1272" lengthAdjust="spacingAndGlyphs"><tspan font-weight="bold">FIGURE 5</tspan> <tspan fill="#9a9a9a">|</tspan> <tspan font-weight="bold">Posttranscriptional miRNA–mRNA interaction network based on microarray expression data</tspan>. The network of control mTEC cells <tspan font-weight="bold">(A)</tspan> shows</text>
<text x="47" y="1637" textLength="1243" lengthAdjust="spacingAndGlyphs">the participation of six miRNAs of let-7 family that interact with PTA mRNAs targets. The highlighted interaction (let-7a–Hmga2 mRNA) was selected for further</text>
<text x="47" y="1666" textLength="1287" lengthAdjust="spacingAndGlyphs">validations. The network of Aire-knockdown mTEC cells <tspan font-weight="bold">(B)</tspan> shows the participation of 15 miRNAs from different families that interact with a restricted group of PTA</text>
<text x="47" y="1695" textLength="1234" lengthAdjust="spacingAndGlyphs">mRNA targets. The highlighted interaction (miR-378–Prpsap1 mRNA) was selected for further validations. Interaction networks were reconstructed by using the</text>
<g transform="translate(47 1724) scale(.82 1)">
<text x="0" y="0">GenMir</text>
<text x="60" y="-8" font-size="10">++</text>
<text x="78" y="0">algorithm, which consider the respective modulation of miRNAs (upregulated) and of mRNA targets (downregulated).</text>
</g>
</g>
</svg>
